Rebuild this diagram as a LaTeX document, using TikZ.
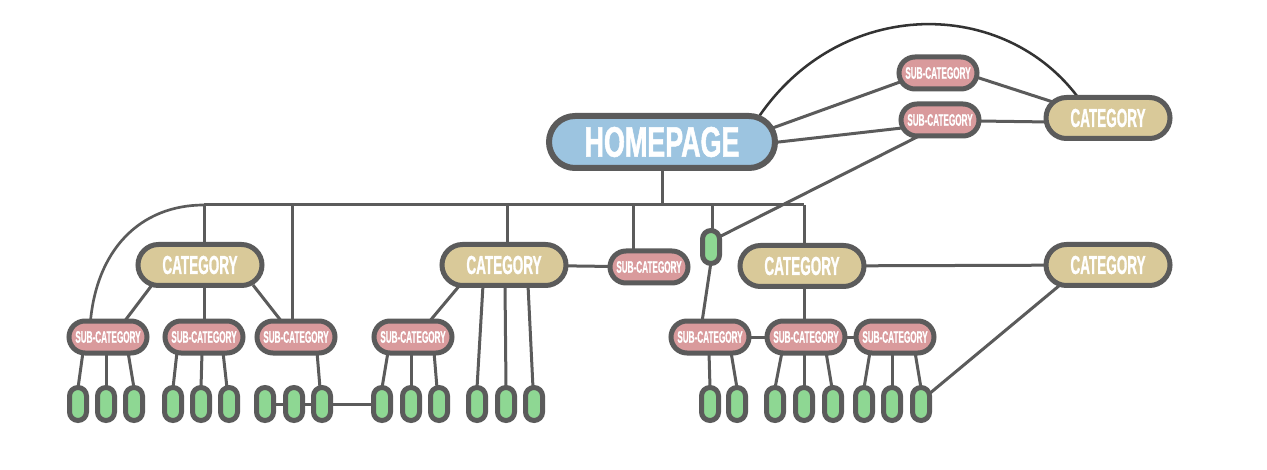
\documentclass[tikz,border=0pt]{standalone}
\usepackage{fontspec}
\newfontfamily\hpfont{Liberation Sans}[FakeStretch=0.63,FakeBold=1.2]
\newfontfamily\catfont{Liberation Sans}[FakeStretch=0.52,FakeBold=1]
\newfontfamily\subfont{Liberation Sans}[FakeStretch=0.49,FakeBold=0.6]
\usetikzlibrary{calc,backgrounds}
\definecolor{bord}{HTML}{5B5B5B}
\definecolor{hpblue}{HTML}{9CC4E0}
\definecolor{cattan}{HTML}{D9C999}
\definecolor{subpink}{HTML}{D99A9C}
\definecolor{leafgreen}{HTML}{8ED793}
\definecolor{arcgray}{HTML}{333333}
\begin{document}
\begin{tikzpicture}[x=0.75pt,y=-0.75pt,
  box/.style={draw=bord, line width=3.75pt, rectangle, inner sep=0pt, text=white},
  hpbox/.style={box, line width=4.5pt, fill=hpblue, minimum width=169.5pt, minimum height=39pt, rounded corners=19.5pt, font=\hpfont\bfseries\fontsize{32pt}{32pt}\selectfont},
  catbox/.style={box, fill=cattan, minimum width=93pt, minimum height=30.75pt, rounded corners=15.375pt, font=\catfont\bfseries\fontsize{19.5pt}{19.5pt}\selectfont},
  subbox/.style={box, fill=subpink, minimum width=58.5pt, minimum height=24pt, rounded corners=12pt, font=\subfont\bfseries\fontsize{12.5pt}{12.5pt}\selectfont},
  leaf/.style={box, fill=leafgreen, minimum width=12.75pt, minimum height=24.75pt, rounded corners=6.375pt},
  link/.style={draw=bord, line width=2.25pt},
  arcline/.style={draw=arcgray, line width=1.9pt},
  curveline/.style={draw=bord, line width=2pt}]
\useasboundingbox (0,0) rectangle (1267,470);

% main nodes
\node[hpbox] (hp) at (662,142) {HOMEPAGE};
\node[catbox] (tcat) at (1108,118) {CATEGORY};
\node[subbox] (ts1) at (938,73) {SUB-CATEGORY};
\node[subbox] (ts2) at (940,120) {SUB-CATEGORY};
\node[catbox] (lcat) at (200,265) {CATEGORY};
\node[subbox] (ls1) at (108,337) {SUB-CATEGORY};
\node[subbox] (ls2) at (204,337) {SUB-CATEGORY};
\node[subbox] (ls3) at (296,337) {SUB-CATEGORY};
\node[catbox] (mcat) at (504,265) {CATEGORY};
\node[subbox] (msr) at (649,267) {SUB-CATEGORY};
\node[subbox] (ms1) at (413,337) {SUB-CATEGORY};
\node[leaf] (gs) at (711,247) {};
\node[catbox] (rcat) at (802,266) {CATEGORY};
\node[subbox] (rs1) at (710,337) {SUB-CATEGORY};
\node[subbox] (rs2) at (806,337) {SUB-CATEGORY};
\node[subbox] (rs3) at (895,337) {SUB-CATEGORY};
\node[catbox] (fcat) at (1108,265) {CATEGORY};
\foreach \n/\x in {g1/78, g2/106, g3/134, g4/173, g5/201, g6/229, g7/265, g8/294, g9/322,
  m1/382, m2/411, m3/439, m4/477, m5/506, m6/534,
  r1/710, r2/737, r3/775, r4/804, r5/833, r6/864, r7/892, r8/921}
  \node[leaf] (\n) at (\x,404) {};

% bus coordinates
\coordinate (bus0) at (662,205);
\coordinate (busL) at (204,205);
\coordinate (busR) at (804,205);
\coordinate (d292) at (292,205);
\coordinate (d507) at (507,205);
\coordinate (d633) at (633,205);
\coordinate (d712) at (712,205);

\begin{scope}[on background layer]
  \fill[white] (0,0) rectangle (1267,470);
  \draw[link] (hp.center) -- (bus0);
  \draw[link] (busL) -- (busR);
  \draw[link] (busL) -- (busL |- lcat.center);
  \draw[link] (d292) -- (d292 |- ls3.center);
  \draw[link] (d507) -- (d507 |- mcat.center);
  \draw[link] (d633) -- (d633 |- msr.center);
  \draw[link] (d712) -- (d712 |- gs.center);
  \draw[link] (busR) -- (busR |- rcat.center);
  \draw[curveline] (busL) .. controls (140,205) and (95,250) .. ($(ls1.center)+(-18,-10)$);
  % left category
  \draw[link] ($(lcat.center)+(-48,20)$) -- ($(ls1.center)+(16,-15)$);
  \draw[link] ($(lcat.center)+(4,20)$) -- ($(ls2.center)+(0,-15)$);
  \draw[link] ($(lcat.center)+(53,20)$) -- ($(ls3.center)+(-14,-15)$);
  \draw[link] ($(ls1.center)+(-25,15)$) -- ($(g1.center)+(0,-16)$);
  \draw[link] ($(ls1.center)+(-2,15)$) -- ($(g2.center)+(0,-16)$);
  \draw[link] ($(ls1.center)+(20,15)$) -- ($(g3.center)+(0,-16)$);
  \draw[link] ($(ls2.center)+(-27,15)$) -- ($(g4.center)+(0,-16)$);
  \draw[link] ($(ls2.center)+(-2,15)$) -- ($(g5.center)+(0,-16)$);
  \draw[link] ($(ls2.center)+(19,15)$) -- ($(g6.center)+(-2,-16)$);
  \draw[link] ($(ls3.center)+(21,15)$) -- ($(g9.center)+(-2,-16)$);
  \draw[link] (g7.center) -- (g8.center) -- (g9.center) -- (m1.center);
  % middle category
  \draw[link] ($(mcat.center)+(-44,20)$) -- ($(ms1.center)+(16,-15)$);
  \draw[link] ($(ms1.center)+(-25,15)$) -- ($(m1.center)+(0,-16)$);
  \draw[link] ($(ms1.center)+(-2,15)$) -- ($(m2.center)+(0,-16)$);
  \draw[link] ($(ms1.center)+(21,15)$) -- ($(m3.center)+(-2,-16)$);
  \draw[link] ($(mcat.center)+(-21,20)$) -- ($(m4.center)+(0,-16)$);
  \draw[link] ($(mcat.center)+(1,20)$) -- ($(m5.center)+(0,-16)$);
  \draw[link] ($(mcat.center)+(24,20)$) -- ($(m6.center)+(-1,-16)$);
  \draw[link] (mcat.center) -- (msr.center);
  % right category
  \draw[link] ($(gs.center)+(0,15)$) -- ($(rs1.center)+(-8,-15)$);
  \draw[link] ($(ts2.center)+(-19,15)$) -- ($(gs.center)+(8,-10)$);
  \draw[link] ($(rcat.center)+(2,20)$) -- ($(rs2.center)+(-2,-15)$);
  \draw[link] (rs1.center) -- (rs2.center) -- (rs3.center);
  \draw[link] ($(rs1.center)+(-1,15)$) -- ($(r1.center)+(0,-16)$);
  \draw[link] ($(rs1.center)+(21,15)$) -- ($(r2.center)+(0,-16)$);
  \draw[link] ($(rs2.center)+(-24,15)$) -- ($(r3.center)+(0,-16)$);
  \draw[link] ($(rs2.center)+(-2,15)$) -- ($(r4.center)+(0,-16)$);
  \draw[link] ($(rs2.center)+(20,15)$) -- ($(r5.center)+(-1,-16)$);
  \draw[link] ($(rs3.center)+(-25,15)$) -- ($(r6.center)+(0,-16)$);
  \draw[link] ($(rs3.center)+(-3,15)$) -- ($(r7.center)+(0,-16)$);
  \draw[link] ($(rs3.center)+(20,15)$) -- ($(r8.center)+(0,-16)$);
  \draw[link] (rcat.center) -- (fcat.center);
  \draw[link] ($(fcat.center)+(-48,20)$) -- ($(r8.center)+(8,-10)$);
  % top
  \draw[link] ($(hp.center)+(105,-12)$) -- ($(ts1.center)+(-38,9)$);
  \draw[link] ($(hp.center)+(108,1)$) -- ($(ts2.center)+(-38,8)$);
  \draw[link] ($(ts1.center)+(38,4)$) -- ($(tcat.center)+(-55,-16)$);
  \draw[link] ($(ts2.center)+(38,1)$) -- ($(tcat.center)+(-58,4)$);
  \draw[arcline] ($(hp.center)+(96,-24)$) .. controls (840,-4) and (1005,-4) .. ($(tcat.center)+(-28,-18)$);
\end{scope}
\end{tikzpicture}
\end{document}
